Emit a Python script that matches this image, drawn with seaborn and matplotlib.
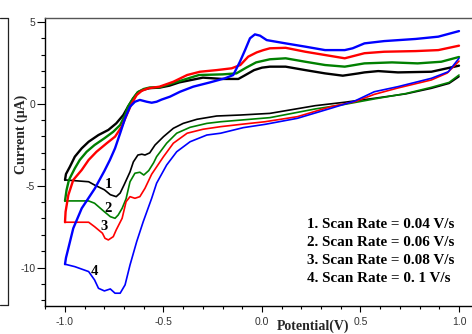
import matplotlib
matplotlib.use("Agg")
import matplotlib.pyplot as plt
import seaborn as sns
from matplotlib.lines import Line2D
from matplotlib.ticker import MultipleLocator, FormatStrFormatter

sns.set_style("ticks")
plt.rcParams['font.family'] = ['Liberation Sans', 'DejaVu Sans']
plt.rcParams['axes.unicode_minus'] = False

# ---- cyclic voltammograms (potential in V, current in uA) ----
# forward sweep (-1.0 -> 1.0, lower branch) and reverse sweep (1.0 -> -1.0, upper branch)

# 1. scan rate 0.04 V/s
E1_fwd = [-1.00, -0.88, -0.85, -0.80, -0.77, -0.74, -0.72, -0.70, -0.67, -0.653, -0.63, -0.61,
          -0.594, -0.57, -0.543, -0.50, -0.45, -0.40, -0.33, -0.23, -0.11, 0.04, 0.27, 0.42,
          0.57, 0.73, 0.86, 0.95, 1.00]
I1_fwd = [-4.65, -4.76, -4.96, -5.25, -5.55, -5.67, -5.45, -4.95, -4.16, -3.55, -3.13, -3.08,
          -3.13, -3.00, -2.52, -2.01, -1.50, -1.20, -0.95, -0.75, -0.69, -0.59, -0.12, 0.09,
          0.33, 0.60, 0.94, 1.24, 1.65]
E1_rev = [1.00, 0.86, 0.69, 0.59, 0.52, 0.49, 0.41, 0.32, 0.22, 0.12, 0.04, 0.00, -0.04, -0.09,
          -0.12, -0.20, -0.30, -0.42, -0.47, -0.52, -0.57, -0.60, -0.63, -0.653, -0.68, -0.704,
          -0.74, -0.78, -0.83, -0.88, -0.915, -0.95, -0.975, -0.995, -1.00]
I1_rev = [2.32, 1.95, 1.91, 1.99, 1.91, 1.85, 1.71, 1.85, 2.05, 2.26, 2.26, 2.20, 2.05, 1.71,
          1.51, 1.51, 1.59, 1.30, 1.10, 0.98, 0.95, 0.86, 0.70, 0.33, -0.18, -0.69,
          -1.20, -1.60, -1.91, -2.32, -2.72, -3.23, -3.84, -4.29, -4.65]

# 2. scan rate 0.06 V/s
E2_fwd = [-1.00, -0.88, -0.85, -0.80, -0.77, -0.746, -0.73, -0.71, -0.69, -0.67, -0.645, -0.62,
          -0.60, -0.575, -0.55, -0.535, -0.484, -0.433, -0.365, -0.28, -0.21, 0.04, 0.27, 0.42,
          0.57, 0.73, 0.86, 0.95, 1.00]
I2_fwd = [-5.93, -5.93, -6.07, -6.59, -6.89, -6.99, -6.79, -6.38, -5.80, -4.76, -4.24, -4.18,
          -4.35, -4.08, -3.60, -3.23, -2.41, -1.80, -1.44, -1.20, -1.10, -0.85, -0.32, -0.04,
          0.29, 0.62, 1.00, 1.30, 1.75]
E2_rev = [1.00, 0.91, 0.79, 0.66, 0.52, 0.42, 0.32, 0.22, 0.12, 0.04, -0.03, -0.08, -0.13,
          -0.20, -0.32, -0.43, -0.52, -0.57, -0.60, -0.63, -0.655, -0.68, -0.695, -0.72, -0.755,
          -0.80, -0.85, -0.89, -0.925, -0.95, -0.98, -0.992, -1.00]
I2_rev = [2.85, 2.56, 2.46, 2.52, 2.46, 2.26, 2.36, 2.56, 2.77, 2.71, 2.52, 2.20, 1.85,
          1.79, 1.75, 1.34, 1.00, 0.99, 0.90, 0.71, 0.32, -0.17, -0.69, -1.30, -1.71,
          -2.11, -2.52, -2.93, -3.43, -3.94, -4.65, -5.26, -5.93]

# 3. scan rate 0.08 V/s
E3_fwd = [-1.00, -0.88, -0.85, -0.81, -0.797, -0.78, -0.755, -0.74, -0.71, -0.69, -0.67, -0.645,
          -0.62, -0.594, -0.56, -0.50, -0.45, -0.38, -0.30, -0.21, -0.10, 0.015, 0.18, 0.35,
          0.47, 0.57, 0.69, 0.86, 0.94, 1.00]
I3_fwd = [-7.23, -7.23, -7.50, -7.90, -8.21, -8.31, -8.11, -7.70, -6.99, -5.98, -5.67, -5.77,
          -5.67, -5.16, -4.30, -3.23, -2.41, -1.80, -1.56, -1.40, -1.25, -1.10, -0.79, -0.18,
          0.12, 0.57, 0.96, 1.45, 1.87, 2.60]
E3_rev = [1.00, 0.895, 0.78, 0.62, 0.52, 0.42, 0.32, 0.22, 0.12, 0.04, 0.007, -0.027, -0.07,
          -0.11, -0.154, -0.23, -0.315, -0.38, -0.45, -0.52, -0.577, -0.61, -0.636, -0.661,
          -0.687, -0.712, -0.746, -0.788, -0.84, -0.88, -0.915, -0.958, -0.983, -0.997, -1.00]
I3_rev = [3.54, 3.27, 3.21, 3.17, 3.08, 2.77, 2.97, 3.17, 3.41, 3.38, 3.27, 3.13, 2.87,
          2.36, 2.16, 2.05, 1.95, 1.75, 1.34, 1.04, 0.94, 0.79, 0.53, 0.02,
          -0.69, -1.40, -2.01, -2.41, -2.93, -3.43, -4.04, -4.65, -5.57, -6.59, -7.23]

# 4. scan rate 0.1 V/s
E4_fwd = [-1.00, -0.95, -0.88, -0.85, -0.83, -0.80, -0.77, -0.746, -0.72, -0.695, -0.67, -0.636,
          -0.603, -0.56, -0.535, -0.484, -0.433, -0.365, -0.28, -0.21, -0.095, 0.015, 0.18,
          0.35, 0.47, 0.57, 0.69, 0.86, 0.946, 1.00]
I4_fwd = [-9.79, -9.94, -10.24, -10.75, -11.26, -11.42, -11.30, -11.56, -11.56, -11.05, -9.84,
          -8.41, -7.20, -5.77, -4.85, -3.74, -2.93, -2.32, -1.91, -1.80, -1.46, -1.26, -0.89,
          -0.28, 0.16, 0.73, 1.04, 1.55, 1.95, 2.77]
E4_rev = [1.00, 0.895, 0.78, 0.62, 0.52, 0.46, 0.42, 0.32, 0.22, 0.12, 0.024, -0.01, -0.036,
          -0.061, -0.086, -0.112, -0.146, -0.188, -0.264, -0.349, -0.416, -0.467, -0.51, -0.535,
          -0.56, -0.585, -0.62, -0.645, -0.67, -0.695, -0.72, -0.746, -0.772, -0.80, -0.848,
          -0.915, -0.958, -0.983, -0.995, -1.00]
I4_rev = [4.43, 4.09, 3.95, 3.82, 3.68, 3.38, 3.27, 3.27, 3.48, 3.68, 3.88, 4.15, 4.23,
          3.99, 3.27, 2.56, 1.75, 1.55, 1.30, 1.04, 0.73, 0.43, 0.25, 0.12,
          0.06, 0.12, 0.23, 0.12, -0.18, -0.89, -1.80, -2.72, -3.43, -4.10, -5.16,
          -6.38, -7.60, -8.82, -9.40, -9.79]

curve_ids = ["1", "2", "3", "4"]
scan_rates = ["0.04", "0.06", "0.08", "0. 1"]
colors = ["#000000", "#008000", "#ff0000", "#0000ff"]
# curve number label anchors (potential, current)
id_E = [-0.78, -0.78, -0.80, -0.851]
id_I = [-4.93, -6.38, -7.50, -10.23]

forward = [(E1_fwd, I1_fwd), (E2_fwd, I2_fwd), (E3_fwd, I3_fwd), (E4_fwd, I4_fwd)]
reverse = [(E1_rev, I1_rev), (E2_rev, I2_rev), (E3_rev, I3_rev), (E4_rev, I4_rev)]

W, H = 472, 334
fig = plt.figure(figsize=(W / 100, H / 100), dpi=100)
ax = fig.add_axes([45 / W, 28 / H, 427 / W, 287.7 / H])

for (ef, i_f), (er, ir), c in zip(forward, reverse, colors):
    sns.lineplot(x=ef, y=i_f, sort=False, estimator=None, color=c, lw=1.2, ax=ax)
    sns.lineplot(x=er, y=ir, sort=False, estimator=None, color=c, lw=1.7, ax=ax)

serif = ['Liberation Serif', 'DejaVu Serif']
for cid, e, i in zip(curve_ids, id_E, id_I):
    ax.text(e, i, cid, family=serif, weight='bold', fontsize=10.5, color='black',
            ha='center', va='center')

for k, (cid, rate) in enumerate(zip(curve_ids, scan_rates)):
    ax.text(0.613, 0.285 - k * 0.0636, f"{cid}. Scan Rate = {rate} V/s",
            transform=ax.transAxes, family=serif, weight='bold', fontsize=10.9,
            color='black', ha='left', va='center')

ax.set_xlim(-1.1015, 1.066)
ax.set_ylim(-12.34, 5.21)
ax.xaxis.set_major_locator(MultipleLocator(0.5))
ax.xaxis.set_minor_locator(MultipleLocator(0.1))
ax.yaxis.set_major_locator(MultipleLocator(5))
ax.yaxis.set_minor_locator(MultipleLocator(1))
ax.xaxis.set_major_formatter(FormatStrFormatter('%.1f'))
ax.yaxis.set_major_formatter(FormatStrFormatter('%d'))

ax.tick_params(axis='y', which='major', length=5.5, width=0.8, pad=1.5,
               labelsize=7.5, labelcolor='#333333', color='black')
ax.tick_params(axis='y', which='minor', length=3, width=0.8, color='black')
ax.tick_params(axis='x', which='major', length=4, width=0.8, pad=4,
               labelsize=7.5, labelcolor='#333333', color='black')
ax.tick_params(axis='x', which='minor', length=2.5, width=0.8, color='black')

ax.spines['right'].set_visible(False)
ax.spines['top'].set_color('#555555')
ax.spines['top'].set_linewidth(1.0)
for s in ['left', 'bottom']:
    ax.spines[s].set_color('black')
    ax.spines[s].set_linewidth(1.0)

ax.set_xlabel("Potential(V)", family=serif, weight='bold', fontsize=10)
ax.xaxis.set_label_coords(0.628, -0.047)
ax.set_ylabel("Current (\u03bcA)", family=serif, weight='bold', fontsize=10)
ax.yaxis.set_label_coords(-0.04, 0.598)

# edge of the neighbouring frame on the left
xe = 8 / W
yt, yb = (H - 18) / H, (H - 305) / H
for xs, ys in [([xe, xe], [yt, yb]), ([0, xe], [yt, yt]), ([0, xe], [yb, yb])]:
    fig.add_artist(Line2D(xs, ys, transform=fig.transFigure, color='#222222', lw=0.9))

fig.savefig("out.png", dpi=100)
